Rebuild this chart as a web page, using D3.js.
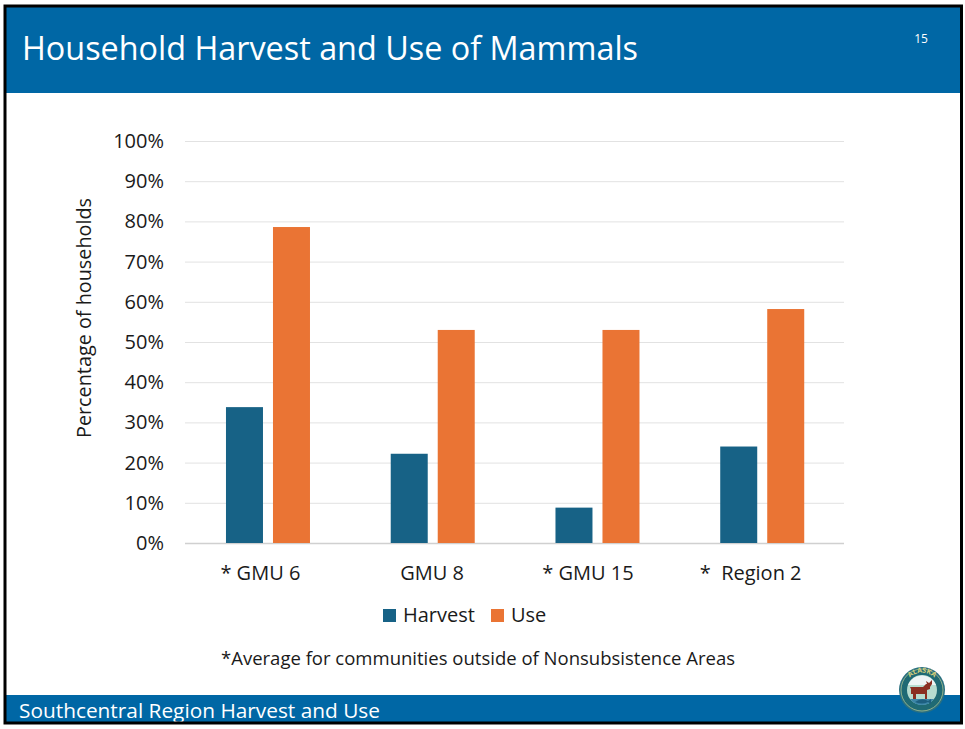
<!DOCTYPE html>
<html><head><meta charset="utf-8">
<script src="https://cdnjs.cloudflare.com/ajax/libs/d3/7.8.5/d3.min.js"></script>
<style>html,body{margin:0;padding:0;background:#fff;overflow:hidden}svg{display:block}text{font-family:"Open Sans",sans-serif}</style>
</head><body><svg id="c" width="965" height="729"></svg>
<script>
const categories = ["* GMU 6", "GMU 8", "* GMU 15", "*  Region 2"];
const seriesNames = ["Harvest", "Use"];
const harvest = [33.8, 22.2, 8.8, 24.0];
const use = [78.6, 53.0, 53.0, 58.2];
const yTicks = [0,10,20,30,40,50,60,70,80,90,100];
const colors = ["#176286", "#ea7434"];
const title = "Household Harvest and Use of Mammals";
const footer = "Southcentral Region Harvest and Use";
const note = "*Average for communities outside of Nonsubsistence Areas";
const yLabel = "Percentage of households";
const pageNumber = "15";

const svg = d3.select("#c");
const blue = "#0067a5";
const ink = "#1a1a1a";
const labelSize = 20;
// slide
svg.append("rect").attr("x",0).attr("y",0).attr("width",965).attr("height",729).attr("fill","#fff");
svg.append("rect").attr("x",5).attr("y",6).attr("width",956).attr("height",87).attr("fill",blue);
svg.append("rect").attr("x",5).attr("y",695).attr("width",956).attr("height",28).attr("fill",blue);
svg.append("text").attr("x",22).attr("y",60).attr("fill","#fff").attr("font-size",33).attr("textLength",616).attr("lengthAdjust","spacingAndGlyphs").text(title);
svg.append("text").attr("x",921).attr("y",43).attr("text-anchor","middle").attr("fill","#fff").attr("font-size",12).text(pageNumber);
svg.append("text").attr("x",19).attr("y",718).attr("fill","#fff").attr("font-size",20).attr("textLength",361).attr("lengthAdjust","spacingAndGlyphs").text(footer);

// scales
const x = d3.scaleBand().domain(categories).range([185,844]);
const y = d3.scaleLinear().domain([0,100]).range([543,141]);
const inner = d3.scaleBand().domain(seriesNames).range([-41.4,42.6]).paddingInner(10/47).paddingOuter(0);

// gridlines + y axis
const yAxis = d3.axisLeft(y).tickValues(yTicks).tickFormat(d=>d+"%").tickSize(-659).tickPadding(21);
const gy = svg.append("g").attr("transform","translate(185,0)").call(yAxis);
gy.select(".domain").remove();
gy.selectAll("line").attr("stroke",d=>d===0?"#d0d0d0":"#e2e2e2").attr("stroke-width",d=>d===0?1.5:1);
gy.selectAll("text").attr("font-size",labelSize).attr("fill",ink);

// x axis
const xAxis = d3.axisBottom(x).tickSize(0).tickPadding(23);
const gx = svg.append("g").attr("transform","translate(0,543)").call(xAxis);
gx.select(".domain").remove();
const xLabelShift = [-7,0,-9,-11];
gx.selectAll("text").attr("font-size",labelSize).attr("fill",ink).style("white-space","pre").attr("dx",(d,i)=>xLabelShift[i]);

// bars
[harvest,use].forEach((vals,s)=>{
  svg.append("g").selectAll("rect").data(vals).join("rect")
    .attr("x",(d,i)=>x(categories[i])+x.bandwidth()/2+inner(seriesNames[s]))
    .attr("width",inner.bandwidth())
    .attr("y",d=>y(d)).attr("height",d=>y(0)-y(d)).attr("fill",colors[s]);
});

// y title
svg.append("text").attr("transform","translate(91,318) rotate(-90)").attr("text-anchor","middle").attr("font-size",labelSize).attr("fill",ink).attr("textLength",240).attr("lengthAdjust","spacingAndGlyphs").text(yLabel);

// legend
const legendX=[383,491];
seriesNames.forEach((n,i)=>{
  svg.append("rect").attr("x",legendX[i]).attr("y",609).attr("width",13).attr("height",13).attr("fill",colors[i]);
  svg.append("text").attr("x",legendX[i]+20).attr("y",622).attr("font-size",labelSize).attr("fill",ink).text(n);
});
svg.append("text").attr("x",478).attr("y",665).attr("text-anchor","middle").attr("font-size",17.5).attr("fill",ink).attr("textLength",514).attr("lengthAdjust","spacingAndGlyphs").text(note);

// logo
const lg=svg.append("g").attr("transform","translate(922,690)");
lg.append("circle").attr("r",23).attr("fill","#2a7080");
lg.append("circle").attr("r",21).attr("fill","#1f6a74").attr("stroke","#8fb08a").attr("stroke-width",1);
lg.append("circle").attr("r",15).attr("fill","#b7dccf");
lg.append("path").attr("d","M-14,-5A15,15 0 0 1 14,-5Z").attr("fill","#eef4f4");
lg.append("path").attr("d","M-12,9A15,15 0 0 0 12,9Z").attr("fill","#3c86a8");
lg.append("path").attr("d","M-12,-3h13l3,-3h1l-1,-3 3,2 3,-3 0,4-2,3v2l-3,1v9h-2v-5h-9v5h-3v-5h-2v-5z").attr("fill","#8a2f22");
lg.append("path").attr("d","M-7,12 Q0,7 6,11 L9,9 V14 L6,12 Q0,15 -7,12Z").attr("fill","#1d5f80");
lg.append("path").attr("id","lgArc").attr("d","M-17,-4A17.5,17.5 0 0 1 17,-4").attr("fill","none");
lg.append("text").attr("font-size",7).attr("font-weight",700).attr("fill","#d8cf7a").append("textPath").attr("href","#lgArc").attr("startOffset","50%").attr("text-anchor","middle").text("ALASKA");

// frame
svg.append("rect").attr("x",5).attr("y",6).attr("width",956.5).attr("height",717).attr("fill","none").attr("stroke","#000").attr("stroke-width",3);
</script></body></html>
